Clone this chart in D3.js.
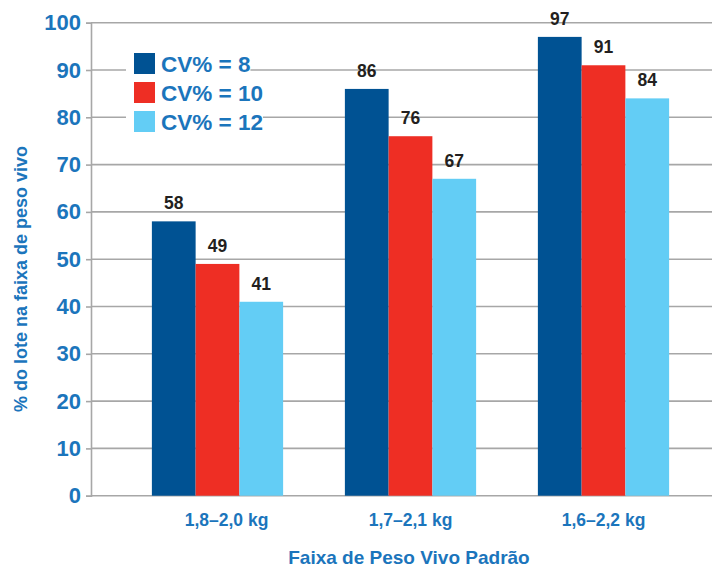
<!DOCTYPE html>
<html>
<head>
<meta charset="utf-8">
<script src="https://cdn.jsdelivr.net/npm/d3@7"></script>
<style>
  html, body { margin: 0; padding: 0; background: #fff; }
  svg { display: block; font-family: "Liberation Sans", Arial, sans-serif; }
</style>
</head>
<body>
<svg id="chart" width="712" height="569"></svg>
<script>
// Weight ranges (x categories) and uniformity series
const categories = ["1,8–2,0 kg", "1,7–2,1 kg", "1,6–2,2 kg"];
const seriesNames = ["CV% = 8", "CV% = 10", "CV% = 12"];
const cv8 = [58, 86, 97];
const cv10 = [49, 76, 91];
const cv12 = [41, 67, 84];
const yTicks = [0, 10, 20, 30, 40, 50, 60, 70, 80, 90, 100];
const yTitle = "% do lote na faixa de peso vivo";
const xTitle = "Faixa de Peso Vivo Padrão";

const seriesValues = [cv8, cv10, cv12];
const colors = ["#005293", "#ee2e24", "#63cdf5"];
const textBlue = "#1b75bc";
const gridGrey = "#a7a7a7";

const svg = d3.select("#chart");
const axisX = 91;
const plotRight = 712;

const y = d3.scaleLinear().domain([0, 100]).range([495.7, 22.7]);
const x0 = d3.scaleBand().domain(categories).range([121, 700])
  .paddingInner(0.32).paddingOuter(0.16);
const x1 = d3.scaleBand().domain(seriesNames).range([0, x0.bandwidth()]);

// Horizontal gridlines
svg.append("g").selectAll("line").data(yTicks.filter(d => d > 0)).join("line")
  .attr("x1", axisX).attr("x2", plotRight)
  .attr("y1", d => y(d)).attr("y2", d => y(d))
  .attr("stroke", gridGrey).attr("stroke-width", 1.6);

// Y axis with tick labels
const yAxis = svg.append("g").attr("transform", `translate(${axisX},0)`)
  .call(d3.axisLeft(y).tickValues(yTicks).tickSize(5).tickPadding(5).tickFormat(d3.format("d")));
yAxis.select(".domain").attr("stroke", gridGrey).attr("stroke-width", 1.6);
yAxis.selectAll(".tick line").attr("stroke", gridGrey).attr("stroke-width", 1.6);
yAxis.selectAll(".tick text")
  .attr("fill", textBlue).attr("font-size", 22).attr("font-weight", "bold")
  .attr("font-family", "'Liberation Sans', Arial, sans-serif");

// Baseline
svg.append("line").attr("x1", axisX).attr("x2", plotRight)
  .attr("y1", y(0)).attr("y2", y(0))
  .attr("stroke", gridGrey).attr("stroke-width", 1.6);

// Bars
const rows = categories.map((c, i) => ({
  cat: c,
  vals: seriesNames.map((s, j) => ({ s, j, v: seriesValues[j][i] }))
}));
const groups = svg.append("g").selectAll("g").data(rows).join("g")
  .attr("transform", d => `translate(${x0(d.cat)},0)`);
groups.selectAll("rect").data(d => d.vals).join("rect")
  .attr("x", d => x1(d.s)).attr("width", x1.bandwidth())
  .attr("y", d => y(d.v)).attr("height", d => y(0) - y(d.v))
  .attr("fill", d => colors[d.j]);
groups.selectAll("text.val").data(d => d.vals).join("text")
  .attr("class", "val")
  .attr("x", d => x1(d.s) + x1.bandwidth() / 2)
  .attr("y", d => y(d.v) - 12)
  .attr("text-anchor", "middle")
  .attr("font-size", 17.5).attr("font-weight", "bold").attr("fill", "#231f20")
  .text(d => d.v);

// X category labels
svg.append("g").selectAll("text").data(categories).join("text")
  .attr("x", (d, i) => x0(d) + x0.bandwidth() / 2 + (i === 0 ? 9 : 0))
  .attr("y", 526)
  .attr("text-anchor", "middle")
  .attr("font-size", 17.5).attr("font-weight", "bold").attr("fill", textBlue)
  .text(d => d);

// Axis titles
svg.append("text")
  .attr("x", 409).attr("y", 564).attr("text-anchor", "middle")
  .attr("font-size", 19).attr("font-weight", "bold").attr("fill", textBlue)
  .text(xTitle);
svg.append("text")
  .attr("transform", "translate(27,279) rotate(-90)").attr("text-anchor", "middle")
  .attr("font-size", 18).attr("font-weight", "bold").attr("fill", textBlue)
  .text(yTitle);

// Legend
const legend = svg.append("g").attr("transform", "translate(134,53)");
const items = legend.selectAll("g").data(seriesNames).join("g")
  .attr("transform", (d, i) => `translate(0,${i * 29})`);
items.append("rect").attr("class", "bg").attr("fill", "#fff");
items.append("rect").attr("width", 21).attr("height", 21)
  .attr("fill", (d, i) => colors[i]);
items.append("text").attr("x", 27).attr("y", 18.5)
  .attr("font-size", 22.5).attr("font-weight", "bold").attr("fill", textBlue)
  .text(d => d);
items.each(function () {
  const t = d3.select(this).select("text").node().getBBox();
  d3.select(this).select("rect.bg").attr("x", -8).attr("y", -4)
    .attr("width", t.x + t.width + 8).attr("height", 29);
});
</script>
</body>
</html>
